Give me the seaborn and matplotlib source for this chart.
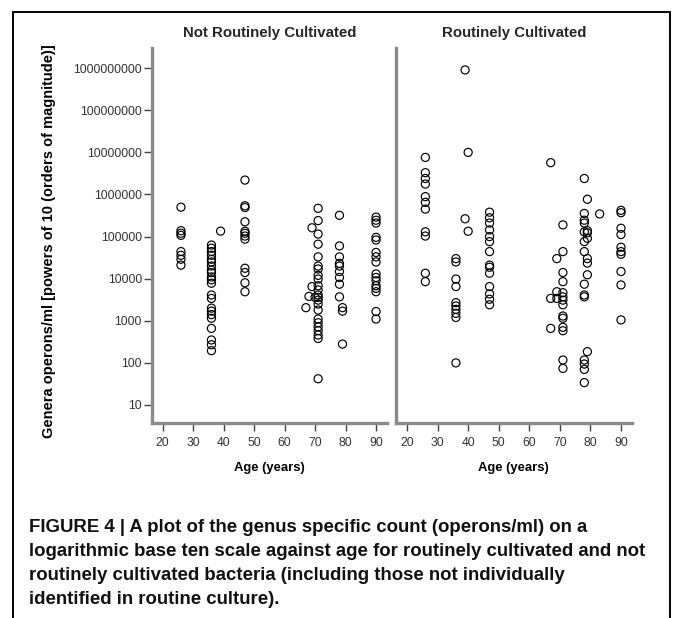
import numpy as np
import pandas as pd
import matplotlib
matplotlib.use("Agg")
import matplotlib.pyplot as plt
from matplotlib.lines import Line2D
from matplotlib.ticker import FixedLocator, FixedFormatter, NullLocator
import seaborn as sns

# ---------------- data ----------------
panel_titles = ["Not Routinely Cultivated", "Routinely Cultivated"]

nrc_ages = [26, 36, 39, 47, 67, 68, 69, 70, 71, 78, 79, 90]
nrc_counts = [
    [500000, 138000, 120000, 107000, 44000, 36000, 29000, 21000],
    [63000, 53000, 44000, 36000, 29000, 25000, 20000, 16000, 14000, 11000, 9400,
     7800, 4100, 3400, 2000, 1700, 1400, 1150, 660, 350, 270, 195],
    [135000],
    [2200000, 540000, 490000, 225000, 134000, 120000, 103000, 87000, 17700, 14000,
     8000, 4900],
    [2050],
    [3800],
    [162000, 6500],
    [3600],
    [470000, 240000, 115000, 66000, 33000, 20000, 17000, 12000, 9800, 6800, 5400,
     4100, 3600, 3100, 2500, 1800, 1100, 900, 720, 580, 460, 380, 42],
    [320000, 60000, 33000, 23000, 20000, 14800, 10700, 7400, 3700],
    [2050, 1700, 280],
    [290000, 245000, 210000, 96000, 83000, 42000, 33000, 25000, 13000, 10700, 8900,
     6800, 5900, 4900, 1660, 1100],
]

rc_ages = [26, 36, 39, 40, 47, 67, 69, 71, 78, 79, 83, 90]
rc_counts = [
    [7600000, 3300000, 2400000, 1770000, 890000, 650000, 450000, 130000, 103000,
     13500, 8500],
    [30000, 25000, 9800, 6500, 2700, 2250, 1870, 1500, 1200, 100],
    [910000000, 265000],
    [10000000, 134000],
    [380000, 280000, 210000, 144000, 100000, 76000, 44000, 21000, 18700, 13500,
     6500, 4350, 3250, 2400],
    [5700000, 3400, 660],
    [30000, 4900, 3400],
    [190000, 44000, 14000, 8500, 4650, 3700, 3100, 2400, 1300, 1150, 700, 580, 117, 74],
    [2400000, 355000, 245000, 210000, 130000, 76000, 44000, 7400, 4100, 3700, 117,
     94, 70, 34],
    [770000, 138000, 123000, 91000, 30000, 23500, 12400, 185],
    [345000],
    [420000, 370000, 158000, 112000, 56000, 44000, 38000, 14800, 7100, 1050],
]

y_ticks = [10, 100, 1000, 10000, 100000, 1000000, 10000000, 100000000, 1000000000]
y_ticklabels = [str(v) for v in y_ticks]
x_ticks = [20, 30, 40, 50, 60, 70, 80, 90]
x_ticklabels = [str(v) for v in x_ticks]

y_label = "Genera operons/ml [powers of 10 (orders of magnitude)]"
x_label = "Age (years)"
caption_lines = [
    "FIGURE 4 | A plot of the genus specific count (operons/ml) on a",
    "logarithmic base ten scale against age for routinely cultivated and not",
    "routinely cultivated bacteria (including those not individually",
    "identified in routine culture).",
]


def to_frame(ages, counts):
    rows = []
    for a, cs in zip(ages, counts):
        for c in cs:
            rows.append((a, c))
    return pd.DataFrame(rows, columns=["age", "count"])


frames = [to_frame(nrc_ages, nrc_counts), to_frame(rc_ages, rc_counts)]

# ---------------- figure ----------------
sns.set_theme(style="white")
plt.rcParams["font.family"] = ["Liberation Sans", "DejaVu Sans"]

W, H = 674, 618
fig = plt.figure(figsize=(W / 100, H / 100), dpi=100)
fig.patch.set_facecolor("white")

ax_top, ax_bot = 48, 423.3
rects = [(151.7, 386.7), (396.0, 631.7)]
axes = []
spine_col = "#8a8a8a"
for i, (l, r) in enumerate(rects):
    ax = fig.add_axes([l / W, 1 - ax_bot / H, (r - l) / W, (ax_bot - ax_top) / H])
    axes.append(ax)
    df = frames[i]
    sns.scatterplot(data=df, x="age", y="count", ax=ax, marker="o", s=34,
                    legend=False)
    for coll in ax.collections:
        coll.set_facecolor("none")
        coll.set_edgecolor("black")
        coll.set_linewidth(0.85)
    ax.set_yscale("log")
    ax.set_ylim(10 ** 0.565, 10 ** 9.48)
    ax.set_xlim(16.4, 93.5)
    ax.xaxis.set_major_locator(FixedLocator(x_ticks))
    ax.xaxis.set_major_formatter(FixedFormatter(x_ticklabels))
    ax.yaxis.set_major_locator(FixedLocator(y_ticks))
    ax.yaxis.set_minor_locator(NullLocator())
    if i == 0:
        ax.yaxis.set_major_formatter(FixedFormatter(y_ticklabels))
        ax.tick_params(axis="y", which="major", direction="out", length=6,
                       width=1, color="#444444", labelsize=8.8,
                       labelcolor="#333333", pad=1, left=True)
        ax.set_ylabel(y_label, fontsize=10.5, fontweight="bold", color="black")
        ax.yaxis.set_label_coords((56 - 151.7) / (386.7 - 151.7),
                                  (ax_bot - 241) / (ax_bot - ax_top))
    else:
        ax.tick_params(axis="y", which="both", left=False, labelleft=False)
        ax.set_ylabel("")
    ax.tick_params(axis="x", which="major", direction="out", length=6, width=1,
                   color="#444444", labelsize=8.8, labelcolor="#333333", pad=4,
                   bottom=True)
    ax.set_xlabel(x_label, fontsize=9.4, fontweight="bold", color="black",
                  labelpad=9)
    ax.set_title(panel_titles[i], fontsize=10.8, fontweight="bold", pad=8)
    for s in ["top", "right"]:
        ax.spines[s].set_visible(False)
    for s in ["left", "bottom"]:
        ax.spines[s].set_visible(True)
        ax.spines[s].set_color(spine_col)
        ax.spines[s].set_linewidth(2.4)
    ax.set_facecolor("white")
    ax.grid(False)

# outer frame
fx0, fx1, fy0 = 13 / W, 670 / W, 1 - 12 / H
fig.add_artist(Line2D([fx0, fx1], [fy0, fy0], transform=fig.transFigure,
                      color="black", lw=1.4))
fig.add_artist(Line2D([fx0, fx0], [fy0, 0], transform=fig.transFigure,
                      color="black", lw=1.4))
fig.add_artist(Line2D([fx1, fx1], [fy0, 0], transform=fig.transFigure,
                      color="black", lw=1.4))

# caption
for k, line in enumerate(caption_lines):
    yc = 527 + 24 * k
    fig.text(29 / W, 1 - yc / H, line, ha="left", va="center",
             fontsize=13.4, fontweight="bold", color="#111111",
             family=["Liberation Sans Narrow", "Liberation Sans", "DejaVu Sans"])

fig.savefig("out.png", dpi=100, facecolor="white")
